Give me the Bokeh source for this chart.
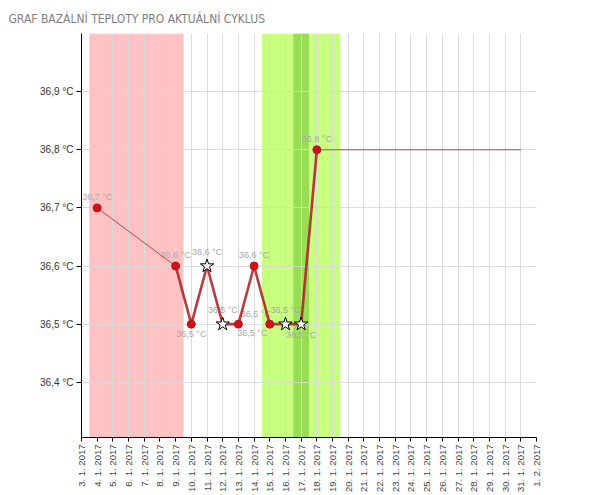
from bokeh.plotting import figure
from bokeh.models import FixedTicker, BoxAnnotation, ColumnDataSource, Range1d
from bokeh.embed import file_html
from bokeh.resources import INLINE
from bokeh.core.properties import value
import math

# ---------------- data ----------------
title_text = "GRAF BAZÁLNÍ TEPLOTY PRO AKTUÁLNÍ CYKLUS"

axis_days = [3, 4, 5, 6, 7, 8, 9, 10, 11, 12, 13, 14, 15, 16, 17, 18, 19, 20,
             21, 22, 23, 24, 25, 26, 27, 28, 29, 30, 31, 32]
axis_labels = ["3. 1. 2017", "4. 1. 2017", "5. 1. 2017", "6. 1. 2017", "7. 1. 2017",
               "8. 1. 2017", "9. 1. 2017", "10. 1. 2017", "11. 1. 2017", "12. 1. 2017",
               "13. 1. 2017", "14. 1. 2017", "15. 1. 2017", "16. 1. 2017", "17. 1. 2017",
               "18. 1. 2017", "19. 1. 2017", "20. 1. 2017", "21. 1. 2017", "22. 1. 2017",
               "23. 1. 2017", "24. 1. 2017", "25. 1. 2017", "26. 1. 2017", "27. 1. 2017",
               "28. 1. 2017", "29. 1. 2017", "30. 1. 2017", "31. 1. 2017", "1. 2. 2017"]

y_ticks = [36.4, 36.5, 36.6, 36.7, 36.8, 36.9]
y_tick_labels = ["36,4 °C", "36,5 °C", "36,6 °C", "36,7 °C", "36,8 °C", "36,9 °C"]

meas_days = [4, 9, 10, 11, 12, 13, 14, 15, 16, 17, 18]
meas_temps = [36.7, 36.6, 36.5, 36.6, 36.5, 36.5, 36.6, 36.5, 36.5, 36.5, 36.8]
meas_kind = ["dot", "dot", "dot", "star", "star", "dot", "dot", "dot", "star", "star", "dot"]
meas_labels = ["36,7 °C", "36,6 °C", "36,5 °C", "36,6 °C", "36,5 °C", "36,5 °C",
               "36,6 °C", "36,5 °C", "36,5 °C", "36,5 °C", "36,8 °C"]

period_days = [4, 9]
fertile_days = [15, 19]
ovulation_day = 17
projection_end_day = 31

# ---------------- styles ----------------
label_side = ["above", "above", "below", "above", "above", "below",
              "above", "above", "above", "below", "above"]
label_dx = [0, 0, 0, 0, 0, 14, 0, -14, 0, 0, 0]
label_dy = [-6, -6, 5, -9, -9, 4, -6, -5, -9, 6, -6]

FONT = "Liberation Sans"

p = figure(frame_width=455, frame_height=404, output_backend="svg", toolbar_location=None,
           x_range=Range1d(3, 32), y_range=Range1d(36.305, 37.0),
           min_border_left=81, min_border_right=50, min_border_top=33,
           min_border_bottom=0)
p.outline_line_color = None
p.background_fill_color = "white"
p.border_fill_color = "white"

p.title.text = title_text
p.title.text_font = "DejaVu Sans Condensed"
p.title.text_font_size = "12px"
p.title.text_font_style = "normal"
p.title.text_color = "#808080"
p.title.align = "left"
p.title.offset = -73
p.title.standoff = 16

# bands
half = 0.5
p.add_layout(BoxAnnotation(left=period_days[0] - half, right=period_days[1] + half,
                           fill_color="#ffc2c2", fill_alpha=1, line_color=None, level="image"))
p.add_layout(BoxAnnotation(left=fertile_days[0] - half, right=fertile_days[1] + half,
                           fill_color="#c8ff80", fill_alpha=1, line_color=None, level="image"))
p.add_layout(BoxAnnotation(left=ovulation_day - half, right=ovulation_day + half,
                           fill_color="#99dd55", fill_alpha=1, line_color=None, level="image"))

# axes
p.xaxis.ticker = FixedTicker(ticks=axis_days)
p.xaxis.major_label_overrides = {d: l for d, l in zip(axis_days, axis_labels)}
p.xaxis.major_label_orientation = math.pi / 2
p.xaxis.major_label_text_font = FONT
p.xaxis.major_label_text_font_size = "9.5px"
p.xaxis.major_label_text_color = "#444444"
p.xaxis.major_label_standoff = 3
p.xaxis.major_tick_out = 4
p.xaxis.major_tick_in = 0
p.xaxis.minor_tick_line_color = None
p.xaxis.axis_line_color = "black"
p.xaxis.major_tick_line_color = "black"

p.yaxis.ticker = FixedTicker(ticks=y_ticks)
p.yaxis.major_label_overrides = {t: l for t, l in zip(y_ticks, y_tick_labels)}
p.yaxis.major_label_text_font = FONT
p.yaxis.major_label_text_font_size = "10px"
p.yaxis.major_label_text_color = "#333333"
p.yaxis.major_label_standoff = 3
p.yaxis.major_tick_out = 5
p.yaxis.major_tick_in = 0
p.yaxis.minor_tick_line_color = None
p.yaxis.axis_line_color = "black"
p.yaxis.major_tick_line_color = "black"

p.xgrid.ticker = FixedTicker(ticks=axis_days)
p.ygrid.ticker = FixedTicker(ticks=y_ticks)
p.xgrid.grid_line_color = "#d8d8d8"
p.ygrid.grid_line_color = "#d8d8d8"
p.xgrid.grid_line_alpha = 0.9
p.ygrid.grid_line_alpha = 0.9

# labels (drawn first so lines overlap them)
src = ColumnDataSource(dict(x=meas_days, y=meas_temps, t=meas_labels,
                            dx=label_dx, dy=label_dy,
                            base=["bottom" if s == "above" else "top" for s in label_side]))
p.text(x="x", y="y", text="t", source=src, x_offset="dx", y_offset="dy",
       text_align="center", text_baseline="base",
       text_font=value(FONT), text_font_size="9px", text_color="#a8a8a8")

# lines: consecutive days thick, gaps thin
LINE = "#b0242c"
for i in range(len(meas_days) - 1):
    xs = [meas_days[i], meas_days[i + 1]]
    ys = [meas_temps[i], meas_temps[i + 1]]
    if meas_days[i + 1] - meas_days[i] == 1:
        p.line(xs, ys, line_color=LINE, line_width=2.6, line_alpha=0.9)
    else:
        p.line(xs, ys, line_color="#b04a4a", line_width=1)
p.line([meas_days[-1], projection_end_day], [meas_temps[-1], meas_temps[-1]],
       line_color="#b04a4a", line_width=1)

# markers
dot_idx = [i for i, k in enumerate(meas_kind) if k == "dot"]
star_idx = [i for i, k in enumerate(meas_kind) if k == "star"]
p.scatter([meas_days[i] for i in dot_idx], [meas_temps[i] for i in dot_idx],
          marker="circle", size=8, fill_color="#d0121c", line_color="#c01018")
p.scatter([meas_days[i] for i in star_idx], [meas_temps[i] for i in star_idx],
          marker="star", size=14, fill_color="white", line_color="black", line_width=1)

open("out.html", "w").write(file_html(p, INLINE))
